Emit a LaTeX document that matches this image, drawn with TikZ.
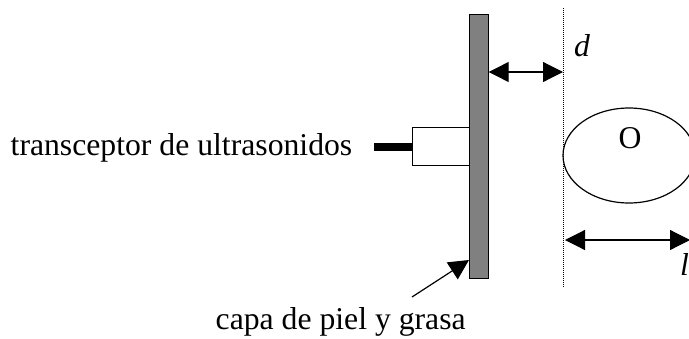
\documentclass[tikz,border=0pt]{standalone}
\usepackage{fontspec}
\setmainfont{Liberation Serif}
\usetikzlibrary{arrows.meta,shapes.geometric}
\tikzset{
  lbl/.style={inner sep=0pt,font=\fontsize{31.7}{36}\selectfont},
  ilbl/.style={inner sep=0pt,font=\fontsize{31.7}{36}\selectfont\itshape},
  dimarrow/.style={line width=1.2pt,{Triangle[length=20pt,width=20pt]}-{Triangle[length=20pt,width=20pt]}},
  outline/.style={draw=black,line width=1.2pt}
}
\begin{document}
\begin{tikzpicture}[x=1pt,y=-1pt]
\clip (0,0) rectangle (689,338);
\useasboundingbox (0,0) rectangle (689,338);
\coordinate (dtop) at (563.5,8);
\coordinate (dbot) at (563.5,288);
\draw[line width=1pt,line cap=butt,dash pattern=on 1pt off 1pt] (dtop) -- (dbot);
\node[outline,fill=white,minimum width=57pt,minimum height=38pt,inner sep=0pt,anchor=north west] (box) at (412,127) {};
\node[outline,fill=black!50,minimum width=18.5pt,minimum height=264pt,inner sep=0pt,anchor=north west] (plate) at (469,14) {};
\coordinate (cable) at (374,146.5);
\draw[line width=8pt] (cable) -- (cable -| box.west);
\node[lbl,anchor=base west] (trans) at (10.5,155) {transceptor de ultrasonidos};
\node[lbl,anchor=base west] (capa) at (215.5,329) {capa de piel y grasa};
\node[outline,ellipse,minimum width=132pt,minimum height=95pt,inner sep=0pt] (obj) at (629,155.5) {};
\node[lbl,anchor=base] (olabel) at (630,148) {O};
\node[ilbl,anchor=base west] (dl) at (574,56) {d};
\node[ilbl,anchor=base west] (ll) at (680,275) {l};
\coordinate (dm) at (563,72);
\coordinate (pm) at (plate.east |- dm);
\draw[dimarrow] (pm) -- (dm);
\coordinate (l1) at (565,240);
\coordinate (l2) at (690,240);
\draw[dimarrow] (l1) -- (l2);
\coordinate (tail) at (412,297);
\coordinate (head) at (469,260);
\draw[line width=1.2pt,-{Triangle[length=20pt,width=20pt]}] (tail) -- (head);
\end{tikzpicture}
\end{document}
